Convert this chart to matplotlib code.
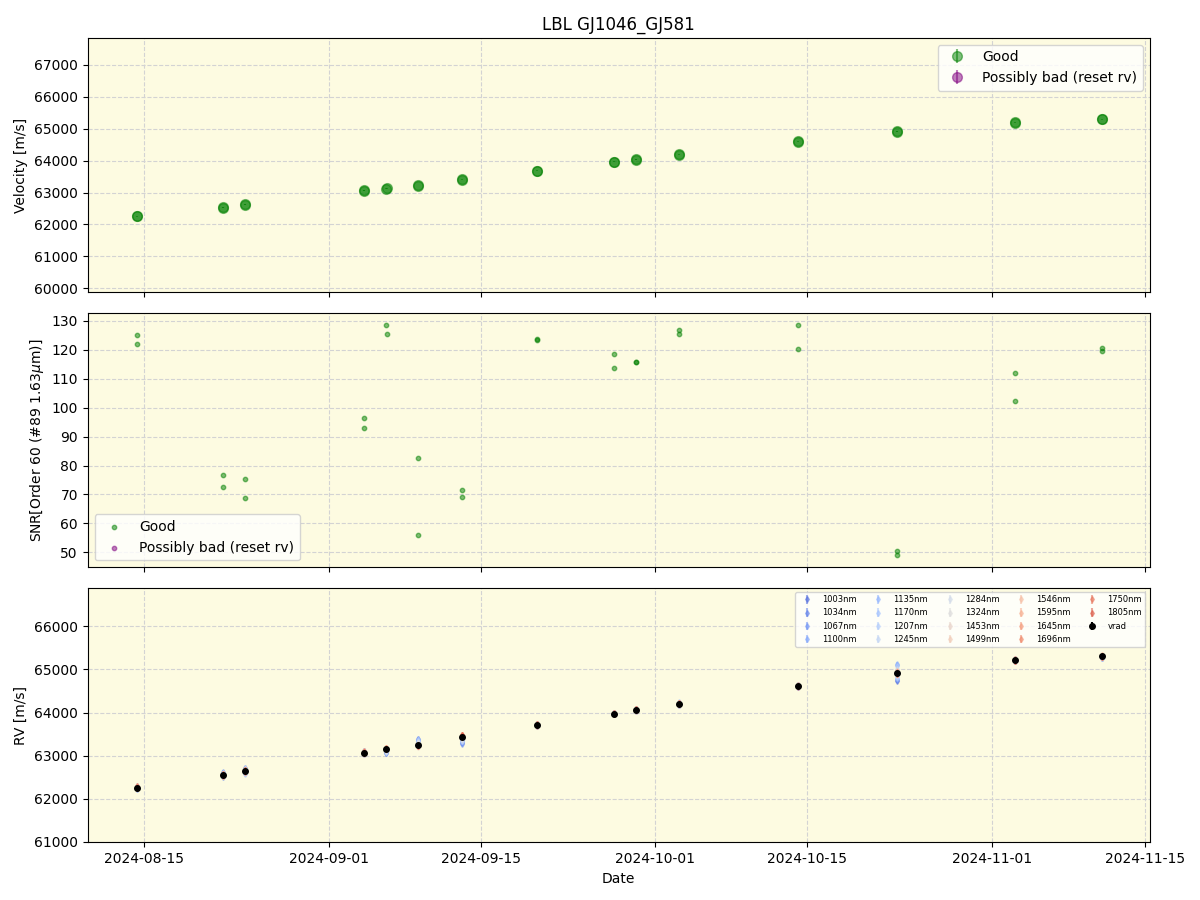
import numpy as np
import pandas as pd
import matplotlib
matplotlib.use("Agg")
import matplotlib.pyplot as plt
import matplotlib.dates as mdates

# nights (two exposures per night)
nights = ["2024-08-14 09:00", "2024-08-22 06:00", "2024-08-24 07:00", "2024-09-04 05:00",
          "2024-09-06 07:00", "2024-09-09 05:00", "2024-09-13 05:00", "2024-09-20 03:00",
          "2024-09-27 05:00", "2024-09-29 05:00", "2024-10-03 05:00", "2024-10-14 03:00",
          "2024-10-23 05:00", "2024-11-03 01:00", "2024-11-11 01:00"]

vel_a = [62250, 62530, 62620, 63060, 63120, 63210, 63400, 63680, 63950, 64030,
         64180, 64590, 64910, 65190, 65290]
vel_b = [62260, 62540, 62630, 63070, 63130, 63240, 63420, 63690, 63970, 64040,
         64200, 64600, 64920, 65210, 65300]
vel_err = [8, 9, 9, 8, 8, 10, 10, 8, 8, 8, 8, 8, 9, 8, 8]

snr_a = [125.0, 76.7, 75.3, 96.5, 128.6, 82.5, 71.5, 123.7, 118.5, 115.8,
         126.8, 128.6, 50.6, 112.0, 120.5]
snr_b = [122.0, 72.5, 68.7, 93.0, 125.5, 56.0, 69.2, 123.4, 113.8, 115.7,
         125.6, 120.4, 49.0, 102.3, 119.6]

vrad = [62255, 62555, 62645, 63070, 63150, 63245, 63420, 63715, 63975, 64060,
        64205, 64615, 64925, 65215, 65310]
vrad_err = [15, 15, 15, 15, 15, 18, 18, 15, 15, 15, 15, 15, 18, 15, 15]

bands = ["1003nm", "1034nm", "1067nm", "1100nm", "1135nm", "1170nm", "1207nm",
         "1245nm", "1284nm", "1324nm", "1453nm", "1499nm", "1546nm", "1595nm",
         "1645nm", "1696nm", "1750nm", "1805nm"]

# per-band offsets from vrad [m/s], one row per band, one column per night
band_offsets = [
    [-30, 40, 60, -20, -90, 150, -120, -20, 10, -20, -30, -30, -200, 20, -40],
    [20, -50, 30, 40, -70, 120, -80, 10, -20, 10, 20, 20, -180, -10, -30],
    [-20, 60, -40, -30, -60, 100, -150, -10, 20, -10, -20, -10, 180, 10, -20],
    [30, -40, 50, 20, -80, 90, -100, 20, -10, 20, 10, 30, -150, -20, -40],
    [-10, 50, -60, -40, -50, 130, -90, -20, 10, -30, -20, -20, 200, 10, -30],
    [10, -30, 40, 30, -70, 80, -70, 10, -20, 20, 30, 10, -120, -10, -20],
    [-30, 40, -80, -20, -40, 110, -60, -10, 20, -10, -10, -20, 150, 20, -30],
    [20, -40, 70, 30, -60, 70, -80, 20, -10, 10, 20, 20, -100, -10, -40],
    [-20, 30, -60, -30, -30, 60, -40, -20, 10, -20, -10, -10, 80, 10, -20],
    [10, -20, 40, 20, -40, 50, -30, 10, -10, 10, 10, 10, -60, -10, -10],
    [-10, 20, -30, -20, 20, -40, 30, -10, 10, -10, -10, -10, 40, 10, 10],
    [20, -20, 20, 30, 10, -30, 40, 10, -10, 10, 10, 20, -30, -10, -10],
    [-20, 10, -20, -30, 20, -20, 50, -10, 20, -20, -20, -10, 30, 20, 10],
    [30, -20, 10, 20, 10, -30, 60, 20, -10, 10, 20, 10, -20, -20, -10],
    [20, 10, -10, -20, 20, -10, 50, -10, 10, -10, -10, 20, 20, 10, 20],
    [-10, -20, 20, 30, 10, -20, 40, 10, -10, 20, 10, -10, -30, -10, -20],
    [30, 20, -20, -10, 20, -10, 60, -20, 10, -10, 20, 10, 10, 20, 10],
    [-20, -10, 10, 20, 10, -20, 50, 10, -20, 10, -10, -20, -20, -10, -10],
]
band_err = 40

t = pd.to_datetime(nights)
t_a = t
t_b = t + pd.Timedelta(minutes=40)

fig, axes = plt.subplots(3, 1, figsize=(12, 9), sharex=True)
bg = "#fdfbe1"

ax = axes[0]
ax.errorbar(np.concatenate([t_a, t_b]), vel_a + vel_b, yerr=vel_err + vel_err,
            fmt="o", color="green", alpha=0.5, ms=7, label="Good")
ax.errorbar([], [], yerr=[], fmt="o", color="purple", alpha=0.5, ms=7,
            label="Possibly bad (reset rv)")
ax.set_ylabel("Velocity [m/s]")
ax.set_ylim(59870, 67850)
ax.legend(loc="upper right")
ax.set_title("LBL GJ1046_GJ581")

ax = axes[1]
ax.scatter(np.concatenate([t_a, t_b]), snr_a + snr_b, s=10, color="green",
           alpha=0.5, label="Good")
ax.scatter([], [], s=10, color="purple", alpha=0.5, label="Possibly bad (reset rv)")
ax.set_ylabel("SNR[Order 60 (#89 1.63$\\mu$m)]")
ax.set_ylim(44.8, 132.8)
ax.legend(loc="lower left")

ax = axes[2]
cmap = plt.get_cmap("coolwarm")
for i, name in enumerate(bands):
    col = cmap(0.08 + 0.8 * i / (len(bands) - 1))
    yv = np.array(vrad) + np.array(band_offsets[i])
    ax.errorbar(t, yv, yerr=band_err, fmt="d", ms=3, color=col, alpha=0.55,
                label=name)
ax.errorbar(t, vrad, yerr=vrad_err, fmt="o", ms=4, color="black", label="vrad")
ax.set_ylabel("RV [m/s]")
ax.set_ylim(60980, 66900)
ax.set_xlabel("Date")
ax.legend(loc="upper right", ncol=5, fontsize=6, columnspacing=1.6)

for ax in axes:
    ax.set_facecolor(bg)
    ax.grid(True, linestyle="--", color="lightgray")
    ax.set_axisbelow(True)

axes[2].set_xlim(pd.Timestamp("2024-08-09 20:00"), pd.Timestamp("2024-11-15 11:00"))
axes[2].xaxis.set_major_locator(mdates.AutoDateLocator())

fig.subplots_adjust(left=0.073, right=0.958, top=0.958, bottom=0.064, hspace=0.08)
fig.savefig("out.png", dpi=100)
plt.close(fig)
